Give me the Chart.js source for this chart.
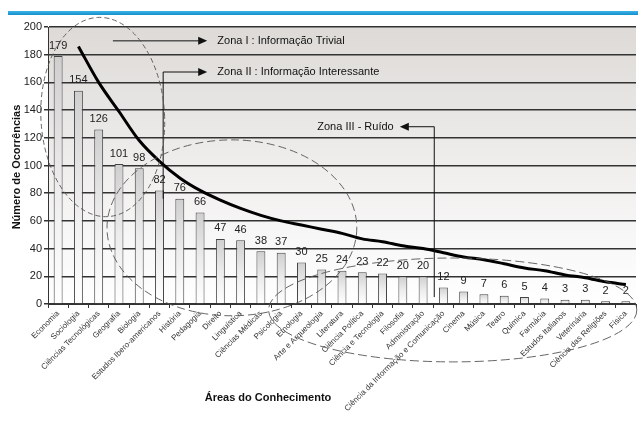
<!DOCTYPE html>
<html>
<head>
<meta charset="utf-8">
<script src="https://cdn.jsdelivr.net/npm/chart.js@4.4.1/dist/chart.umd.min.js"></script>
<style>
  html, body { margin: 0; padding: 0; background: #fff; }
  #wrap { width: 638px; height: 422px; position: relative; }
</style>
</head>
<body>
<div id="wrap"><canvas id="chart"></canvas></div>
<script>
const areas = ['Economia', 'Sociologia', 'Ciências Tecnológicas', 'Geografia', 'Biologia',
  'Estudos Ibero-americanos', 'História', 'Pedagogia', 'Direito', 'Linguística',
  'Ciências Médicas', 'Psicologia', 'Etnologia', 'Arte e Arqueologia', 'Literatura',
  'Ciência Política', 'Ciência e Tecnologia', 'Filosofia', 'Administração',
  'Ciência da Informação e Comunicação', 'Cinema', 'Música', 'Teatro', 'Química',
  'Farmácia', 'Estudos Italianos', 'Veterinária', 'Ciência das Religiões', 'Física'];
const ocorrencias = [179, 154, 126, 101, 98, 82, 76, 66, 47, 46, 38, 37, 30, 25, 24,
  23, 22, 20, 20, 12, 9, 7, 6, 5, 4, 3, 3, 2, 2];
// curva de tendência
const tendencia = [null, 186, 160, 139, 118, 103, 91, 82, 75, 69, 64, 60, 57, 54, 51,
  47, 45, 42, 40, 37, 34, 32, 29, 26, 24, 21, 19, 16, 14];
const yTicks = [0, 200, 20];

const FONT = "'Liberation Sans', Arial, sans-serif";

const zonaTextos = ['Zona I : Informação Trivial', 'Zona II : Informação Interessante', 'Zona III - Ruído'];

// ===================== plugins =====================
const fundo = {
  id: 'fundo',
  beforeDraw(chart) {
    const { ctx, chartArea: a } = chart;
    ctx.save();
    ctx.fillStyle = '#fff';
    ctx.fillRect(0, 0, chart.width, chart.height);
    const g = ctx.createLinearGradient(0, a.top, 0, a.bottom);
    g.addColorStop(0, '#dddad7');
    g.addColorStop(0.55, '#f1f0ef');
    g.addColorStop(1, '#ffffff');
    ctx.fillStyle = g;
    ctx.fillRect(a.left, a.top, a.right - a.left, a.bottom - a.top);
    // faixa azul no topo
    const b = ctx.createLinearGradient(0, 11, 0, 15);
    b.addColorStop(0, '#3db3e6');
    b.addColorStop(1, '#1590cc');
    ctx.fillStyle = b;
    ctx.fillRect(8, 11, chart.width - 8, 4);
    ctx.restore();
  }
};

const rotulos = {
  id: 'rotulos',
  afterDatasetsDraw(chart) {
    const { ctx } = chart;
    const meta = chart.getDatasetMeta(0);
    ctx.save();
    ctx.font = '11px ' + FONT;
    ctx.fillStyle = '#222';
    ctx.textAlign = 'center';
    ctx.textBaseline = 'bottom';
    meta.data.forEach((bar, i) => {
      ctx.fillText(String(ocorrencias[i]), bar.x, bar.y - 5);
    });
    ctx.restore();
  }
};

function seta(ctx, x1, y1, x2, y2) {
  const ang = Math.atan2(y2 - y1, x2 - x1);
  ctx.beginPath();
  ctx.moveTo(x2, y2);
  ctx.lineTo(x2 - 9 * Math.cos(ang) + 4 * Math.sin(ang), y2 - 9 * Math.sin(ang) - 4 * Math.cos(ang));
  ctx.lineTo(x2 - 9 * Math.cos(ang) - 4 * Math.sin(ang), y2 - 9 * Math.sin(ang) + 4 * Math.cos(ang));
  ctx.closePath();
  ctx.fill();
}

const zonas = {
  id: 'zonas',
  afterDraw(chart) {
    const { ctx } = chart;
    const xs = chart.scales.x, ys = chart.scales.y;
    const px = i => xs.getPixelForValue(i);
    const py = v => ys.getPixelForValue(v);
    const step = px(1) - px(0);
    ctx.save();
    ctx.strokeStyle = '#111';
    ctx.fillStyle = '#111';
    ctx.lineWidth = 1;

    // Zona I
    ctx.beginPath();
    ctx.moveTo(px(2.7), py(190)); ctx.lineTo(px(7.0), py(190)); ctx.stroke();
    seta(ctx, px(2.7), py(190), px(7.35), py(190));
    // Zona II
    ctx.beginPath();
    ctx.moveTo(px(5.18), py(76)); ctx.lineTo(px(5.18), py(167.5)); ctx.lineTo(px(7.0), py(167.5)); ctx.stroke();
    seta(ctx, px(5.18), py(167.5), px(7.35), py(167.5));
    // Zona III
    ctx.beginPath();
    ctx.moveTo(px(18.55), py(5)); ctx.lineTo(px(18.55), py(128)); ctx.lineTo(px(17.2), py(128)); ctx.stroke();
    seta(ctx, px(18.55), py(128), px(16.85), py(128));

    ctx.font = '11px ' + FONT;
    ctx.textBaseline = 'middle';
    ctx.fillStyle = '#111';
    ctx.textAlign = 'left';
    ctx.fillText(zonaTextos[0], px(7.85), py(190));
    ctx.fillText(zonaTextos[1], px(7.85), py(167.5));
    ctx.textAlign = 'right';
    ctx.fillText(zonaTextos[2], px(16.55), py(128));

    // elipses tracejadas
    const elipse = (ci, cv, ri, rv, dash, rot) => {
      ctx.beginPath();
      ctx.setLineDash(dash);
      ctx.ellipse(px(ci), py(cv), ri * step, Math.abs(py(0) - py(rv)), rot, 0, Math.PI * 2);
      ctx.stroke();
    };
    ctx.strokeStyle = '#555';
    ctx.lineWidth = 0.9;
    elipse(2.2, 135, 3.05, 72, [5, 3], -0.05);
    elipse(8.57, 55, 6.16, 63.5, [8, 4], 0);
    elipse(19.46, -4.3, 9.08, 37.5, [9, 4], 0);
    ctx.setLineDash([]);

    // títulos dos eixos
    ctx.fillStyle = '#111';
    ctx.font = 'bold 11px ' + FONT;
    ctx.textAlign = 'center';
    ctx.textBaseline = 'middle';
    ctx.fillText('Áreas do Conhecimento', 268, 398);
    ctx.translate(17, 167);
    ctx.rotate(-Math.PI / 2);
    ctx.fillText('Número de Ocorrências', 0, 0);
    ctx.restore();
  }
};

// ===================== gráfico =====================
function gradienteBarra(context) {
  const chart = context.chart;
  if (!chart.chartArea) return '#e8e8e8';
  const v = ocorrencias[context.dataIndex];
  const top = chart.scales.y.getPixelForValue(v);
  const bottom = chart.scales.y.getPixelForValue(0);
  const g = chart.ctx.createLinearGradient(0, top, 0, Math.max(bottom, top + 1));
  g.addColorStop(0, '#cfcfcf');
  g.addColorStop(0.5, '#ececec');
  g.addColorStop(1, '#ffffff');
  return g;
}

new Chart(document.getElementById('chart'), {
  data: {
    labels: areas,
    datasets: [
      {
        type: 'bar',
        data: ocorrencias,
        backgroundColor: gradienteBarra,
        borderColor: '#444',
        borderWidth: 1,
        barPercentage: 0.88,
        categoryPercentage: 0.5,
        order: 1
      },
      {
        type: 'line',
        data: tendencia,
        borderColor: '#000',
        borderWidth: 3,
        pointRadius: 0,
        tension: 0.4,
        cubicInterpolationMode: 'monotone',
        fill: false,
        order: 0
      }
    ]
  },
  options: {
    responsive: true,
    maintainAspectRatio: false,
    animation: false,
    devicePixelRatio: 1,
    layout: { padding: { top: 27, right: 2, left: 0, bottom: 0 } },
    plugins: { legend: { display: false }, tooltip: { enabled: false } },
    scales: {
      x: {
        type: 'category',
        offset: true,
        afterFit: s => { s.height = 118; },
        grid: { display: true, drawOnChartArea: false, drawTicks: true, tickLength: 4, color: '#333', offset: true },
        border: { display: true, color: '#333', width: 1 },
        ticks: {
          autoSkip: false, maxRotation: 45, minRotation: 45, padding: 1,
          color: '#333', font: { family: FONT, size: 8 }
        }
      },
      y: {
        min: yTicks[0],
        max: yTicks[1],
        afterFit: s => { s.width = 48; },
        grid: { color: '#333', lineWidth: 1.5, tickLength: 4 },
        border: { display: true, color: '#333', width: 1 },
        ticks: { stepSize: yTicks[2], padding: 2, color: '#222', font: { family: FONT, size: 11 } }
      }
    }
  },
  plugins: [fundo, rotulos, zonas]
});
</script>
</body>
</html>
